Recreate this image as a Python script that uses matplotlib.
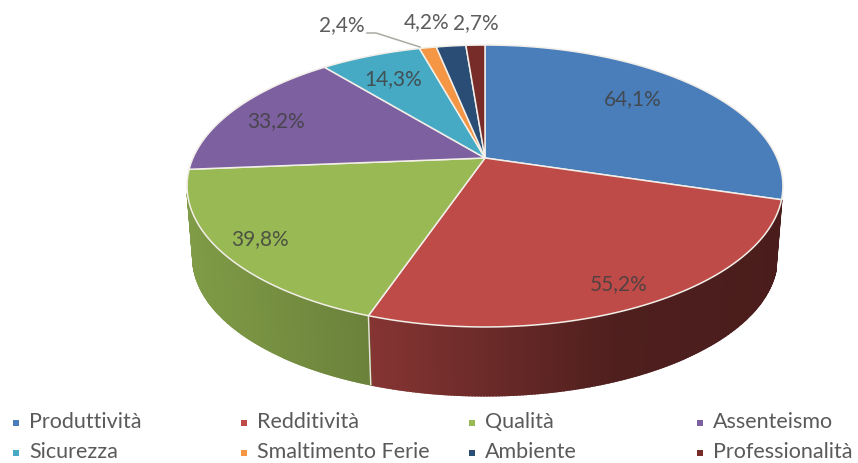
import numpy as np
import matplotlib
matplotlib.use("Agg")
import matplotlib.pyplot as plt
from matplotlib.colors import to_rgb

categories = ["Produttività", "Redditività", "Qualità", "Assenteismo",
              "Sicurezza", "Smaltimento Ferie", "Ambiente", "Professionalità"]
values = [64.1, 55.2, 39.8, 33.2, 14.3, 2.4, 4.2, 2.7]
value_labels = ["64,1%", "55,2%", "39,8%", "33,2%", "14,3%", "2,4%", "4,2%", "2,7%"]
colors = ["#4A7EBB", "#BE4B48", "#98B954", "#7D60A0", "#46AAC4", "#F59645", "#2A4D76", "#772C2A"]

label_xy = [(633, 99), (619, 284), (260, 239), (276, 121), (393, 79), (342, 25), (427, 22), (476, 23)]
plt.rcParams["font.family"] = ["Lato", "DejaVu Sans"]

CX, CY = 485.0, 158.0
K, A, B = 0.1986, 135.4, 292.0
DEPTH, SHRINK = 72.0, 0.98

def top(t):
    w = 1 + K * np.sin(t)
    return CX + B * np.cos(t) / w, CY - A * np.sin(t) / w

def bottom(t):
    x, y = top(t)
    return CX + (x - CX) * SHRINK, CY + (y - CY) * SHRINK + DEPTH

def shade(x):
    return np.interp(x, [187, 370, 620, 783], [0.84, 0.70, 0.41, 0.39])

fig = plt.figure(figsize=(8.58, 4.63), dpi=100)
ax = fig.add_axes([0, 0, 1, 1])
ax.set_xlim(0, 858)
ax.set_ylim(463, 0)
ax.axis("off")

fractions = np.array(values) / sum(values)
edges = np.pi / 2 - 2 * np.pi * np.concatenate([[0], np.cumsum(fractions)])

# side wall: the two front slices only, starting where the rim leaves the silhouette
for i in (1, 2):
    a0, a1 = edges[i], edges[i + 1]
    ts = np.linspace(a0, a1, max(int((a0 - a1) * 120), 2))
    rgb = np.array(to_rgb(colors[i]))
    for t0, t1 in zip(ts[:-1], ts[1:]):
        if np.sin((t0 + t1) / 2) > -0.25:
            continue
        x0, y0 = top(t0)
        x1, y1 = top(t1)
        x2, y2 = bottom(t1)
        x3, y3 = bottom(t0)
        c = rgb * shade((x0 + x1) / 2)
        ax.fill([x0, x1, x2, x3], [y0, y1, y2, y3], facecolor=c, edgecolor=c, lw=1.4, zorder=1)

# divider on the wall between red and green
x0, y0 = top(edges[2])
x1, y1 = bottom(edges[2])
ax.plot([x0, x1], [y0, y1], color="#E8E4DC", lw=1.0, zorder=2)

# top face
for i, col in enumerate(colors):
    ts = np.linspace(edges[i], edges[i + 1], 200)
    xs, ys = top(ts)
    ax.fill(np.r_[CX, xs], np.r_[CY, ys], facecolor=col, edgecolor="#F2EEE8",
            lw=1.1, joinstyle="round", zorder=3)

# leader line for the small slice
ax.plot([367, 376, 420], [33, 33, 47], color="#A8ACA4", lw=1.1, zorder=4)

for (x, y), s in zip(label_xy, value_labels):
    ax.text(x, y, s, ha="center", va="center", fontsize=15, color="#404040",
            alpha=0.85, zorder=5)

col_x = [13, 241, 469, 697]
row_y = [423, 453]
for i, name in enumerate(categories):
    row, col = divmod(i, 4)
    ax.scatter([col_x[col] + 3], [row_y[row]], marker="s", s=22, color=colors[i], lw=0, zorder=5)
    ax.text(col_x[col] + 16, row_y[row] - 1, name, ha="left", va="center",
            fontsize=15.5, color="#5A5A5A", zorder=5)

fig.savefig("out.png", dpi=100)
